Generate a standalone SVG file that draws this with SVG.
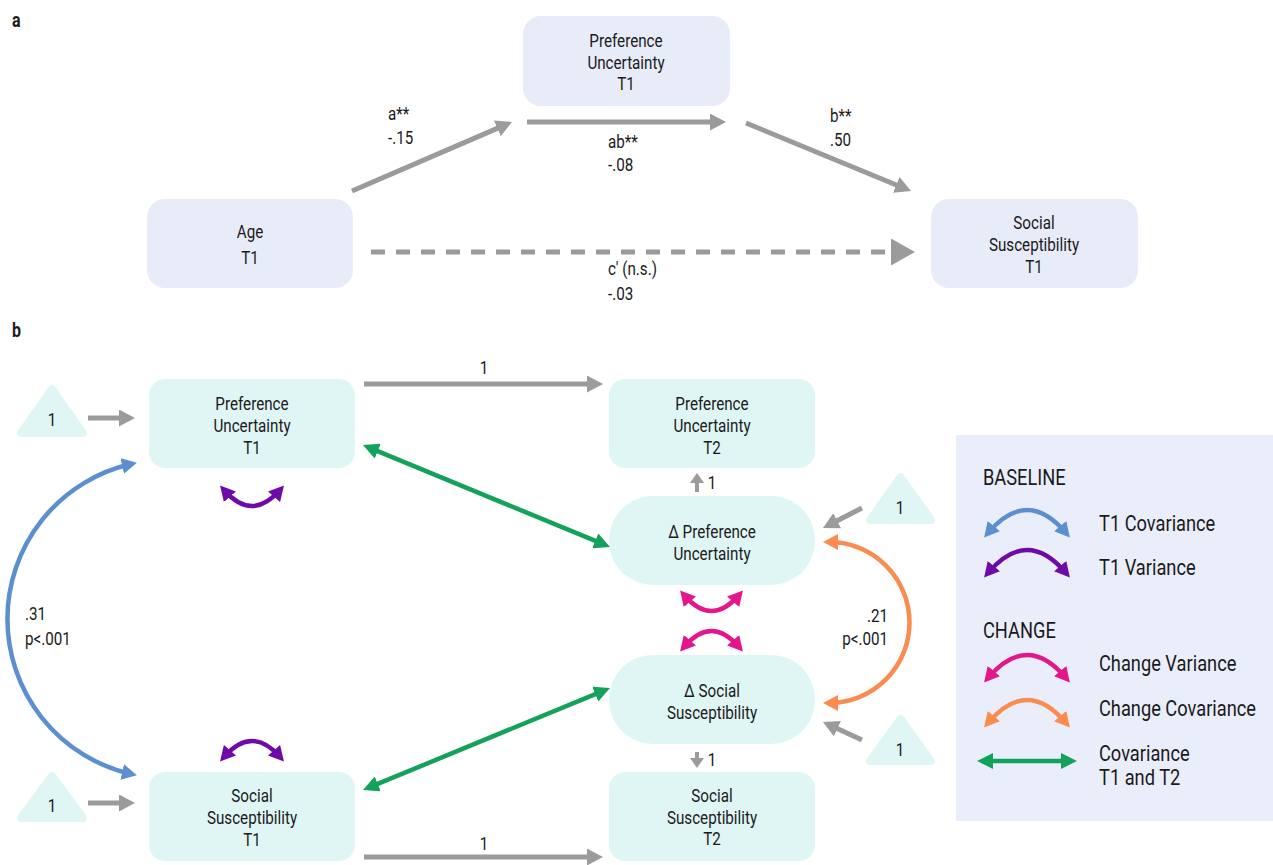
<svg xmlns="http://www.w3.org/2000/svg" width="1273" height="865" viewBox="0 0 1273 865">
<style>
text{font-family:Roboto,"Liberation Sans",sans-serif;fill:#1a1a1a;font-size:19px;transform-box:fill-box;transform:scaleX(0.8)}
.c{text-anchor:middle;transform-origin:50% 50%}
.l{text-anchor:start;transform-origin:0% 50%}
.r{text-anchor:end;transform-origin:100% 50%}
.lg{font-size:22px;transform:scaleX(0.83)}
.pl{font-weight:bold;font-size:20px}
.na{fill:#e8ecf9}
.nb{fill:#e0f6f5}
.tri{fill:#e0f6f5;stroke:#e0f6f5;stroke-width:8;stroke-linejoin:round}
.g{fill:none;stroke:#9b9b9b;stroke-width:5}
.gt{fill:none;stroke:#9b9b9b;stroke-width:4}
.gr{fill:none;stroke:#13a25b;stroke-width:4.5}
.bl{fill:none;stroke:#5c8fd0;stroke-width:4.5}
.pu{fill:none;stroke:#6f0aa8;stroke-width:4.5}
.pk{fill:none;stroke:#e3168c;stroke-width:4.5}
.or{fill:none;stroke:#fb8c4f;stroke-width:4.5}
</style>
<defs>
<marker id="mg" viewBox="0 0 16 17" refX="10" refY="8.5" markerWidth="16" markerHeight="17" markerUnits="userSpaceOnUse" orient="auto-start-reverse"><path d="M0,0L16,8.5L0,17z" fill="#9b9b9b"/></marker>
<marker id="mgs" viewBox="0 0 10 14" refX="6" refY="7" markerWidth="10" markerHeight="14" markerUnits="userSpaceOnUse" orient="auto-start-reverse"><path d="M0,0L10,7L0,14z" fill="#9b9b9b"/></marker>
<marker id="mgb" viewBox="0 0 24 27" refX="18" refY="13.5" markerWidth="24" markerHeight="27" markerUnits="userSpaceOnUse" orient="auto-start-reverse"><path d="M0,0L24,13.5L0,27z" fill="#9b9b9b"/></marker>
<marker id="mgr" viewBox="0 0 16 16" refX="10" refY="8" markerWidth="16" markerHeight="16" markerUnits="userSpaceOnUse" orient="auto-start-reverse"><path d="M0,0L16,8L0,16z" fill="#13a25b"/></marker>
<marker id="mbl" viewBox="0 0 15 16" refX="9" refY="8" markerWidth="15" markerHeight="16" markerUnits="userSpaceOnUse" orient="auto-start-reverse"><path d="M0,0L15,8L0,16z" fill="#5c8fd0"/></marker>
<marker id="mpu" viewBox="0 0 15 16" refX="9" refY="8" markerWidth="15" markerHeight="16" markerUnits="userSpaceOnUse" orient="auto-start-reverse"><path d="M0,0L15,8L0,16z" fill="#6f0aa8"/></marker>
<marker id="mpk" viewBox="0 0 15 16" refX="9" refY="8" markerWidth="15" markerHeight="16" markerUnits="userSpaceOnUse" orient="auto-start-reverse"><path d="M0,0L15,8L0,16z" fill="#e3168c"/></marker>
<marker id="mor" viewBox="0 0 15 16" refX="9" refY="8" markerWidth="15" markerHeight="16" markerUnits="userSpaceOnUse" orient="auto-start-reverse"><path d="M0,0L15,8L0,16z" fill="#fb8c4f"/></marker>
</defs>
<rect width="1273" height="865" fill="#ffffff"/>

<!-- panel labels -->
<text class="l pl" x="12" y="27">a</text>
<text class="l pl" x="12" y="337">b</text>

<!-- Panel a nodes -->
<g id="a-pref">
<rect class="na" x="523" y="16" width="207" height="90" rx="18"/>
<text class="c" x="626" y="47">Preference</text>
<text class="c" x="626" y="69">Uncertainty</text>
<text class="c" x="626" y="90">T1</text>
</g>
<g id="a-age">
<rect class="na" x="147" y="199" width="206" height="89" rx="18"/>
<text class="c" x="250" y="238">Age</text>
<text class="c" x="250" y="264">T1</text>
</g>
<g id="a-social">
<rect class="na" x="931" y="199" width="207" height="89" rx="18"/>
<text class="c" x="1034" y="229">Social</text>
<text class="c" x="1034" y="251">Susceptibility</text>
<text class="c" x="1034" y="273">T1</text>
</g>

<!-- Panel b nodes -->
<g id="b-pref1">
<rect class="nb" x="149" y="379" width="206" height="89" rx="16"/>
<text class="c" x="252" y="410">Preference</text>
<text class="c" x="252" y="432">Uncertainty</text>
<text class="c" x="252" y="454">T1</text>
</g>
<g id="b-social1">
<rect class="nb" x="149" y="772" width="206" height="89" rx="16"/>
<text class="c" x="252" y="802">Social</text>
<text class="c" x="252" y="824">Susceptibility</text>
<text class="c" x="252" y="846">T1</text>
</g>
<g id="b-pref2">
<rect class="nb" x="609" y="379" width="206" height="89" rx="16"/>
<text class="c" x="712" y="410">Preference</text>
<text class="c" x="712" y="432">Uncertainty</text>
<text class="c" x="712" y="454">T2</text>
</g>
<g id="b-dpref">
<rect class="nb" x="609" y="496" width="206" height="89" rx="44"/>
<text class="c" x="712" y="538">Δ Preference</text>
<text class="c" x="712" y="560">Uncertainty</text>
</g>
<g id="b-dsocial">
<rect class="nb" x="609" y="655" width="206" height="89" rx="44"/>
<text class="c" x="712" y="697">Δ Social</text>
<text class="c" x="712" y="719">Susceptibility</text>
</g>
<g id="b-social2">
<rect class="nb" x="609" y="772" width="206" height="89" rx="16"/>
<text class="c" x="712" y="802">Social</text>
<text class="c" x="712" y="824">Susceptibility</text>
<text class="c" x="712" y="845">T2</text>
</g>
<g id="tri-1">
<path class="tri" d="M52,389L21,433L83,433z"/>
<text class="c" x="52" y="426">1</text>
</g>
<g id="tri-2">
<path class="tri" d="M52,776L21,818L83,818z"/>
<text class="c" x="52" y="812">1</text>
</g>
<g id="tri-3">
<path class="tri" d="M900.5,477L870,520L931,520z"/>
<text class="c" x="900" y="514">1</text>
</g>
<g id="tri-4">
<path class="tri" d="M900.5,719L870,761L931,761z"/>
<text class="c" x="900" y="756">1</text>
</g>

<!-- Legend -->
<g id="legend">
<rect x="956" y="435" width="317" height="386" fill="#eaeefa"/>
<text class="l lg" x="983" y="485">BASELINE</text>
<path class="bl" d="M988,533Q1027,487 1066,533" marker-start="url(#mbl)" marker-end="url(#mbl)"/>
<text class="l lg" x="1099" y="531">T1 Covariance</text>
<path class="pu" d="M988,573Q1027,527 1066,573" marker-start="url(#mpu)" marker-end="url(#mpu)"/>
<text class="l lg" x="1099" y="575">T1 Variance</text>
<text class="l lg" x="983" y="638">CHANGE</text>
<path class="pk" d="M988,678Q1027,632 1066,678" marker-start="url(#mpk)" marker-end="url(#mpk)"/>
<text class="l lg" x="1099" y="671">Change Variance</text>
<path class="or" d="M988,723Q1027,677 1066,723" marker-start="url(#mor)" marker-end="url(#mor)"/>
<text class="l lg" x="1099" y="716">Change Covariance</text>
<path class="gr" d="M983,761L1071,761" marker-start="url(#mgr)" marker-end="url(#mgr)"/>
<text class="l lg" x="1099" y="761">Covariance</text>
<text class="l lg" x="1099" y="785">T1 and T2</text>
</g>

<!-- Connectors -->
<g id="connectors">
<!-- panel a -->
<path class="g" d="M352,191L506.5,124.4" marker-end="url(#mg)"/>
<path class="g" d="M527,122L720,122" marker-end="url(#mg)"/>
<path class="g" d="M746,123L905.5,188.7" marker-end="url(#mg)"/>
<path class="g" d="M371,252L909,252" stroke-dasharray="14 11" marker-end="url(#mgb)"/>
<text class="l" x="388" y="120">a**</text>
<text class="l" x="388" y="144">-.15</text>
<text class="l" x="608" y="148">ab**</text>
<text class="l" x="608" y="171">-.08</text>
<text class="l" x="830" y="122">b**</text>
<text class="l" x="830" y="146">.50</text>
<text class="l" x="608" y="275">c′ (n.s.)</text>
<text class="l" x="608" y="300">-.03</text>

<!-- panel b -->
<path class="g" d="M364,384L597,384" marker-end="url(#mg)"/>
<text class="c" x="484" y="374">1</text>
<path class="g" d="M364,857L597,857" marker-end="url(#mg)"/>
<text class="c" x="484" y="850">1</text>
<path class="g" d="M88,418L129,418" marker-end="url(#mg)"/>
<path class="g" d="M88,803L129,803" marker-end="url(#mg)"/>
<path class="gt" d="M697,492L697,477" marker-end="url(#mgs)"/>
<text class="c" x="712" y="489">1</text>
<path class="gt" d="M697,752L697,764" marker-end="url(#mgs)"/>
<text class="c" x="712" y="766">1</text>
<path class="g" d="M862,508L828.3,525.3" marker-end="url(#mg)"/>
<path class="g" d="M862,740L828.4,724.5" marker-end="url(#mg)"/>
<path class="gr" d="M368.5,447.3L604.5,544.7" marker-start="url(#mgr)" marker-end="url(#mgr)"/>
<path class="gr" d="M368.5,787.7L604.5,690.3" marker-start="url(#mgr)" marker-end="url(#mgr)"/>
<path class="bl" d="M131,464A159,159 0 0 0 131,774" marker-start="url(#mbl)" marker-end="url(#mbl)"/>
<text class="l" x="25" y="620">.31</text>
<text class="l" x="25" y="645">p&lt;.001</text>
<path class="or" d="M829,542A80,80 0 0 1 829,703" marker-start="url(#mor)" marker-end="url(#mor)"/>
<text class="r" x="888" y="622">.21</text>
<text class="r" x="888" y="645">p&lt;.001</text>
<path class="pu" d="M224,490Q252,522 280,490" marker-start="url(#mpu)" marker-end="url(#mpu)"/>
<path class="pu" d="M224,757Q252,725 280,757" marker-start="url(#mpu)" marker-end="url(#mpu)"/>
<path class="pk" d="M684,595Q711.5,627 739,595" marker-start="url(#mpk)" marker-end="url(#mpk)"/>
<path class="pk" d="M684,647Q711.5,615 739,647" marker-start="url(#mpk)" marker-end="url(#mpk)"/>
</g>
</svg>
